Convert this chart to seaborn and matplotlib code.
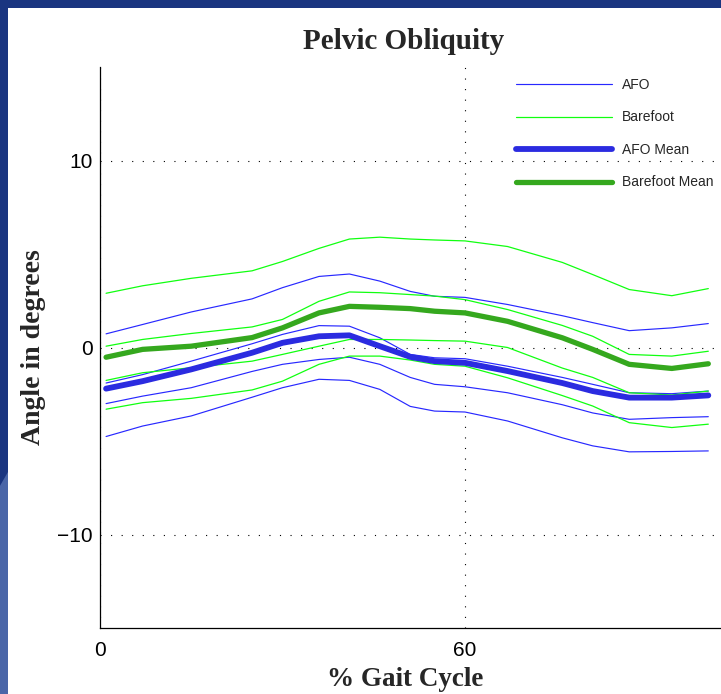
import matplotlib
matplotlib.use("Agg")
import matplotlib.pyplot as plt
import matplotlib.patches as mpatches
import pandas as pd
import seaborn as sns

gait = [1, 7, 15, 25, 30, 36, 41, 46, 51, 55, 60, 67, 76, 81, 87, 94, 100]

# AFO individual curves (thin blue)
afo_1 = [0.73, 1.23, 1.9, 2.6, 3.2, 3.8, 3.93, 3.55, 3.0, 2.74, 2.68, 2.3, 1.7, 1.33, 0.9, 1.05, 1.28]
afo_2 = [-1.9, -1.45, -0.73, 0.2, 0.7, 1.17, 1.14, 0.52, -0.37, -0.55, -0.6, -1.0, -1.6, -1.97, -2.42, -2.47, -2.33]
afo_3 = [-3.0, -2.6, -2.15, -1.28, -0.9, -0.64, -0.52, -0.9, -1.6, -1.97, -2.1, -2.42, -3.06, -3.5, -3.84, -3.75, -3.7]
afo_4 = [-4.76, -4.2, -3.66, -2.66, -2.15, -1.7, -1.76, -2.24, -3.15, -3.4, -3.45, -3.93, -4.83, -5.26, -5.58, -5.56, -5.53]

# Barefoot individual curves (thin green)
bare_1 = [2.9, 3.3, 3.7, 4.1, 4.6, 5.3, 5.8, 5.9, 5.8, 5.75, 5.7, 5.4, 4.55, 3.9, 3.1, 2.77, 3.15]
bare_2 = [0.07, 0.43, 0.75, 1.1, 1.5, 2.47, 2.97, 2.93, 2.83, 2.75, 2.56, 2.03, 1.18, 0.6, -0.37, -0.46, -0.2]
bare_3 = [-1.76, -1.35, -1.08, -0.73, -0.37, 0.07, 0.43, 0.43, 0.4, 0.37, 0.34, 0.0, -1.1, -1.6, -2.42, -2.54, -2.33]
bare_4 = [-3.3, -2.95, -2.72, -2.27, -1.8, -0.9, -0.46, -0.46, -0.67, -0.9, -1.0, -1.62, -2.57, -3.13, -4.02, -4.28, -4.1]

# mean curves
afo_mean = [-2.2, -1.8, -1.17, -0.28, 0.25, 0.6, 0.65, 0.07, -0.5, -0.73, -0.82, -1.26, -1.9, -2.33, -2.68, -2.68, -2.56]
bare_mean = [-0.52, -0.1, 0.07, 0.53, 1.05, 1.85, 2.2, 2.15, 2.08, 1.94, 1.85, 1.4, 0.52, -0.1, -0.9, -1.12, -0.87]

x_ticks = [0, 60]
y_ticks = [-10, 0, 10]

sns.set_style("white")
plt.rcParams['font.family'] = ['Liberation Sans', 'DejaVu Sans']

fig = plt.figure(figsize=(7.21, 6.94), dpi=100, facecolor="#1a3580")
# white slide area behind the axes
fig.patches.append(mpatches.Rectangle((8 / 721, 0), 1, 1 - 8 / 694, transform=fig.transFigure,
                                      facecolor="white", edgecolor="none", zorder=-10))
fig.patches.append(mpatches.Polygon([(0, 0), (8 / 721, 0), (8 / 721, 0.32), (0, 0.30)],
                                    closed=True, transform=fig.transFigure,
                                    facecolor="#4a66a8", edgecolor="none", zorder=-10))

ax = fig.add_axes([100 / 721, 66 / 694, 621 / 721, 561 / 694])
ax.set_facecolor("none")
ax.set_zorder(5)

thin_blue = "#2828ff"
thin_green = "#10ff10"

for i, s in enumerate([afo_1, afo_2, afo_3, afo_4]):
    sns.lineplot(x=gait, y=s, ax=ax, color=thin_blue, lw=0.85, label="AFO" if i == 0 else None)
for i, s in enumerate([bare_1, bare_2, bare_3, bare_4]):
    sns.lineplot(x=gait, y=s, ax=ax, color=thin_green, lw=0.9, label="Barefoot" if i == 0 else None)
sns.lineplot(x=gait, y=afo_mean, ax=ax, color="#2b2be0", lw=4.2, label="AFO Mean")
sns.lineplot(x=gait, y=bare_mean, ax=ax, color="#35a81e", lw=3.8, label="Barefoot Mean")

ax.set_xlim(0, 621 / 6.083)
ax.set_ylim(-15, 15)
ax.set_xticks(x_ticks)
ax.set_yticks(y_ticks)
ax.tick_params(direction="in", length=4, width=0.8, labelsize=15, colors="black")
ax.tick_params(axis="x", pad=9)
ax.tick_params(axis="y", pad=5)
ax.grid(True, color="black", linestyle=(0, (1, 8.5)), lw=0.8)
for side in ["top", "right"]:
    ax.spines[side].set_visible(False)
for side in ["left", "bottom"]:
    ax.spines[side].set_color("black")
    ax.spines[side].set_linewidth(0.9)

serif = ['Liberation Serif', 'DejaVu Serif']
ax.set_title("Pelvic Obliquity", family=serif, fontweight="bold", fontsize=21, pad=13, x=(404 - 100) / 621)
ax.set_xlabel("% Gait Cycle", family=serif, fontweight="bold", fontsize=19.5)
ax.xaxis.set_label_coords((405 - 100) / 621, -39 / 561)
ax.set_ylabel("Angle in degrees", family=serif, fontweight="bold", fontsize=20, labelpad=8)

leg = ax.legend(loc="upper left", bbox_to_anchor=(516 / 721, 1 - 78 / 694), bbox_transform=fig.transFigure,
                frameon=False, fontsize=10, handlelength=6.9, handletextpad=0.72, labelspacing=1.33,
                borderpad=0, borderaxespad=0)

fig.savefig("out.png", dpi=100, facecolor=fig.get_facecolor())
